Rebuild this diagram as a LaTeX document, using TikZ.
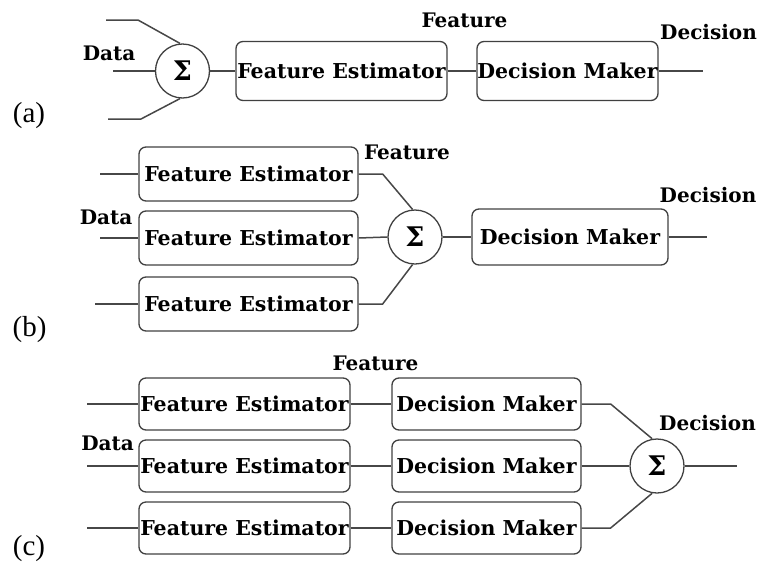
\documentclass[tikz,border=0pt]{standalone}
\usepackage{fontspec}
\setmainfont{DejaVu Serif}
\newfontfamily\tagfont{Liberation Serif}
\usepackage{tikz}

\tikzset{
    blk/.style={draw=black!75, line width=1.3pt, rounded corners=7pt, inner sep=0pt,
        minimum height=54pt, font=\bfseries\fontsize{20.5}{20.5}\selectfont},
    sumnode/.style={circle, draw=black!75, line width=1.3pt, minimum size=54pt,
        inner sep=0pt, font=\bfseries\fontsize{27}{27}\selectfont},
    wire/.style={draw=black!72, line width=1.5pt},
    lbl/.style={inner sep=0pt, font=\bfseries\fontsize{20}{20}\selectfont},
    tag/.style={inner sep=0pt, font=\tagfont\fontsize{29}{29}\selectfont}
}

\begin{document}
\begin{tikzpicture}[x=1pt, y=-1pt]
    \useasboundingbox (0,0) rectangle (760,563);

    % (a)
    \node[sumnode] (suma) at (182.5,71) {Σ};
    \node[blk, minimum width=211pt, minimum height=59pt] (fea) at (341.5,71) {Feature Estimator};
    \node[blk, minimum width=181pt, minimum height=59pt] (dma) at (567.5,71) {Decision Maker};
    \coordinate (ina1) at (106,20);
    \coordinate (ina2) at (113,71);
    \coordinate (ina3) at (108,119);
    \coordinate (outa) at (703,71);
    \draw[wire] (ina1) -- ++(32,0) -- (suma.95);
    \draw[wire] (ina2) -- (suma.west);
    \draw[wire] (ina3) -- ++(33,0) -- (suma.265);
    \draw[wire] (suma) -- (fea);
    \draw[wire] (fea) -- (dma);
    \draw[wire] (dma.east) -- (outa);
    \node[lbl] (dataa) at (109,53) {Data};
    \node[lbl] (feata) at (464.5,20) {Feature};
    \node[lbl] (deca) at (708.5,32) {Decision};
    \node[tag] (taga) at (29,116) {(a)};

    % (b)
    \node[blk, minimum width=219pt] (feb1) at (248.5,174) {Feature Estimator};
    \node[blk, minimum width=219pt] (feb2) at (248.5,238) {Feature Estimator};
    \node[blk, minimum width=219pt] (feb3) at (248.5,304) {Feature Estimator};
    \node[sumnode] (sumb) at (415,237) {Σ};
    \node[blk, minimum width=196pt, minimum height=56pt] (dmb) at (570,237) {Decision Maker};
    \coordinate (inb1) at (100,174);
    \coordinate (inb2) at (100,238);
    \coordinate (inb3) at (95,304);
    \coordinate (outb) at (707,237);
    \draw[wire] (inb1) -- (feb1.west);
    \draw[wire] (inb2) -- (feb2.west);
    \draw[wire] (inb3) -- (feb3.west);
    \draw[wire] (feb1.east) -- ++(24,0) -- (sumb.95);
    \draw[wire] (feb2.east) -- (sumb.west);
    \draw[wire] (feb3.east) -- ++(24,0) -- (sumb.265);
    \draw[wire] (sumb) -- (dmb);
    \draw[wire] (dmb.east) -- (outb);
    \node[lbl] (datab) at (106,217) {Data};
    \node[lbl] (featb) at (407,152) {Feature};
    \node[lbl] (decb) at (708,195) {Decision};
    \node[tag] (tagb) at (29.5,330) {(b)};

    % (c)
    \foreach \i/\y in {1/404, 2/466, 3/528} {
        \node[blk, minimum width=211pt, minimum height=52pt] (fec\i) at (244.5,\y) {Feature Estimator};
        \node[blk, minimum width=189pt, minimum height=52pt] (dmc\i) at (486.5,\y) {Decision Maker};
        \coordinate (inc\i) at (87,\y);
        \draw[wire] (inc\i) -- (fec\i.west);
        \draw[wire] (fec\i) -- (dmc\i);
    }
    \node[sumnode] (sumc) at (657,466) {Σ};
    \coordinate (outc) at (737,466);
    \draw[wire] (dmc1.east) -- ++(29,0) -- (sumc.100);
    \draw[wire] (dmc2.east) -- (sumc.west);
    \draw[wire] (dmc3.east) -- ++(29,0) -- (sumc.260);
    \draw[wire] (sumc.east) -- (outc);
    \node[lbl] (datac) at (107.5,443) {Data};
    \node[lbl] (featc) at (375.5,363) {Feature};
    \node[lbl] (decc) at (707.5,423) {Decision};
    \node[tag] (tagc) at (29,549) {(c)};
\end{tikzpicture}
\end{document}
